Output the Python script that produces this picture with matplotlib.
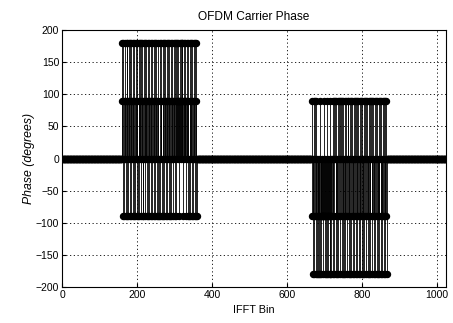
import numpy as np
import matplotlib
matplotlib.use("Agg")
import matplotlib.pyplot as plt

plt.rcParams['font.family'] = ['Liberation Sans', 'DejaVu Sans']

n_bins = 1024
block_a_start = 160
block_a = [
    90, 180, -90, 180, 0, 90, -90, 180, 90, 0, -90, 90, 180, 180, -90, 0, 90, -90, 180, 90,
    -90, 0, 180, 90, -90, 180, 0, 90, 180, -90, 90, 0, -90, 180, 90, -90, 180, 0, 90, -90,
    180, 90, 0, -90, 180, -90, 90, 180, 0, 90, -90, 180, 90, 0, 180, -90, 90, -90, 0, 180,
    90, -90, 180, 0, 90, 180, -90, 90, 0, -90, 180, 90, 180, -90, 0, 90, 180, -90, 90, 0,
    -90, 180, 90, 0, 180, -90, 90, -90, 180, 0, 90, 180, -90, 0, 90, -90, 180, 90, 0, -90,
    180, 0, -90, 90, 180, 90, -90, 0, 180, -90, 90, 180, 0, -90, 90, 180, -90, 0, 90, 180,
    -90, 90, 0, 180, -90, 90, 180, 0, -90, 90, 180, -90, 0, 90, 180, 90, -90, 0, 180, 90,
    -90, 180, 0, 90, -90, 180, 90, 180, 90, 180, 0, 90, -90, 90, 180, 90, 90, 180, 0, 180,
    90, 180, -90, 90, 180, 90, 0, 90, 90, 180, -90, 90, 90, 0, 180, -90, 90, 180, 0, -90,
    180, 90, -90, 0, 180, 90, -90, 180, 0, 90, -90, 180, 90, 0, -90, 180, 90, -90, 180, -90,
]
block_b_start = 666
block_b = [
    -90, 90, -180, 0, -90, 90, -180, -90, 0, 90, -180, -90, 90, 0, -180, -90, -180, -90, 0, -180,
    -90, -180, 90, -90, -180, -90, 0, -90, -90, -180, -90, 90, -90, -90, -180, 0, -90, -180, -90, -180,
    -90, 90, -90, 0, -180, -90, -90, -180, -180, 90, -90, -180, 0, -90, 0, 90, -180, -90, 0, 90,
    -180, 90, 0, -90, -180, 90, 0, -180, -90, 90, -180, 0, 90, -90, -180, 90, 0, -90, 90, -180,
    0, 90, -90, -180, 90, 0, -180, -90, 90, -180, 0, 90, -90, -180, 0, 90, -90, 90, -180, 0,
    -90, 90, -180, 0, 90, -180, -90, 0, 90, -180, -90, 90, 0, -180, 90, -90, 0, -180, 90, -90,
    90, -180, 0, -90, 90, -180, 0, 90, -90, -180, 90, 0, -90, -180, 90, 0, -180, -90, 90, 0,
    -180, 90, -90, 0, -180, 90, -90, 90, 0, -180, -90, 90, -180, 0, 90, -90, -180, 90, 0, -90,
    90, -180, 0, -90, 90, -180, -90, 0, 90, -180, 90, -90, 0, -180, 90, -90, -180, 0, 90, -90,
    -180, 90, 0, -90, -180, 90, -90, 0, -180, 90, -90, 90, -180, 0, -90, 90, -180, -90, 90, -180,
]
x_ticks = [0, 200, 400, 600, 800, 1000]
y_ticks = [-200, -150, -100, -50, 0, 50, 100, 150, 200]

bins = np.arange(n_bins)
phase = np.zeros(n_bins)
phase[block_a_start:block_a_start + len(block_a)] = block_a
phase[block_b_start:block_b_start + len(block_b)] = block_b

fig = plt.figure(figsize=(4.53, 3.23), dpi=100)
ax = fig.add_axes([0.137, 0.111, 0.848, 0.796])

ml, sl, bl = ax.stem(bins, phase, linefmt='k-', markerfmt='ko', basefmt='k-')
sl.set_linewidth(0.6)
ml.set_markersize(4.3)
bl.set_linewidth(0.8)

ax.set_xlim(0, 1024)
ax.set_ylim(-200, 200)
ax.set_xticks(x_ticks)
ax.set_yticks(y_ticks)
ax.grid(True, color='black', linestyle=(0, (1.5, 3)), linewidth=0.6)
ax.set_axisbelow(True)
ax.tick_params(direction='in', length=3, labelsize=7.5, pad=2)
for s in ax.spines.values():
    s.set_linewidth(0.8)

ax.set_title('OFDM Carrier Phase', fontsize=8.6, pad=7)
ax.set_xlabel('IFFT Bin', fontsize=7.8, labelpad=4)
ax.set_ylabel('Phase (degrees)', fontsize=8.8, style='italic', labelpad=1)

fig.savefig('out.png', dpi=100)
